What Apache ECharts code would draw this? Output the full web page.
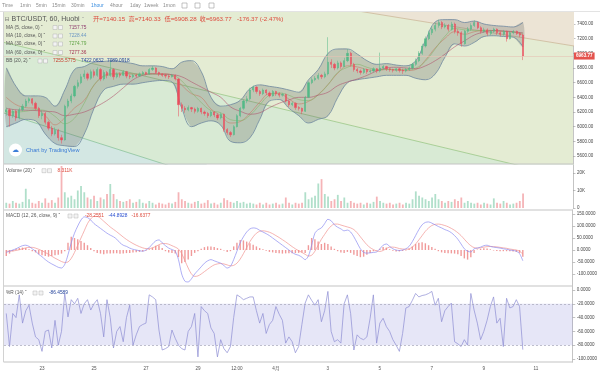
<!DOCTYPE html>
<html><head><meta charset="utf-8">
<script src="https://cdn.jsdelivr.net/npm/echarts@6/dist/echarts.min.js"></script>
<style>html,body{margin:0;padding:0;background:#fff}#c{width:600px;height:375px}</style>
</head><body><div id="c"></div>
<script>
// time axis in hours since 21 Mar 00:00
const candleStartHour = 15, candleStepHours = 3;
const lineStartHour = 15, lineStepHours = 9;
const hMin = 12.9, hMax = 538.1;

// [open, close, low, high]
const candles = [
[6200,6230,6150,6260],[6230,6150,6000,6250],[6150,6210,6120,6240],[6210,6120,6080,6230],[6120,6230,6100,6260],
[6230,6280,6210,6310],[6280,6350,6260,6380],[6350,6380,6320,6400],[6380,6320,6290,6390],[6320,6250,6220,6340],
[6250,6150,6120,6270],[6150,6180,6100,6220],[6180,6060,6030,6200],[6060,5980,5950,6080],[5980,5900,5870,6010],
[5900,5950,5880,5990],[5950,5850,5810,5970],[5850,5820,5770,5890],[5820,6280,5810,6300],[6280,6350,6250,6380],
[6350,6420,6320,6450],[6420,6550,6400,6570],[6550,6600,6520,6640],[6600,6680,6580,6720],[6680,6720,6650,6770],
[6720,6660,6630,6740],[6660,6750,6640,6780],[6750,6700,6670,6780],[6700,6780,6680,6810],[6780,6650,6620,6800],
[6650,6740,6630,6770],[6740,6700,6660,6760],[6700,6780,6680,6900],[6780,6680,6640,6800],[6680,6720,6660,6740],
[6720,6700,6670,6740],[6700,6750,6690,6770],[6750,6690,6660,6760],[6690,6680,6650,6710],[6680,6700,6660,6720],
[6700,6690,6670,6720],[6690,6720,6680,6740],[6720,6740,6700,6760],[6740,6720,6700,6750],[6720,6780,6710,6800],
[6780,6800,6760,6830],[6800,6740,6720,6810],[6740,6720,6690,6750],[6720,6700,6680,6730],[6700,6690,6660,6720],
[6690,6680,6650,6710],[6680,6700,6670,6720],[6700,6650,6630,6710],[6650,6300,6140,6660],[6300,6250,6200,6330],
[6250,6230,6190,6280],[6230,6260,6210,6290],[6260,6240,6200,6270],[6240,6210,6180,6260],[6210,6250,6190,6270],
[6250,6200,6170,6260],[6200,6180,6150,6220],[6180,6150,6120,6200],[6150,6200,6130,6220],[6200,6160,6130,6210],
[6160,6120,6090,6180],[6120,6170,6100,6190],[6170,5960,5930,6180],[5960,5920,5890,5980],[5920,5890,5860,5940],
[5890,6000,5880,6020],[6000,6150,5990,6170],[6150,6250,6130,6270],[6250,6350,6230,6370],[6350,6380,6320,6420],
[6380,6500,6360,6530],[6500,6540,6470,6560],[6540,6480,6450,6550],[6480,6450,6420,6500],[6450,6500,6430,6520],
[6500,6460,6430,6510],[6460,6420,6400,6480],[6420,6480,6410,6500],[6480,6450,6420,6490],[6450,6430,6400,6470],
[6430,6440,6410,6460],[6440,6350,6330,6450],[6350,6300,6270,6360],[6300,6320,6280,6340],[6320,6260,6230,6330],
[6260,6250,6220,6280],[6250,6210,6170,6260],[6210,6400,6200,6420],[6400,6600,6390,6620],[6600,6640,6580,6670],
[6640,6660,6620,6690],[6660,6700,6640,6730],[6700,6680,6650,6720],[6680,6720,6660,6750],[6720,6880,6700,7220],
[6880,6850,6800,6920],[6850,6800,6770,6870],[6800,6870,6780,6900],[6870,6820,6790,6890],[6820,6900,6810,6940],
[6900,7000,6880,7060],[7000,6850,6820,7020],[6850,6780,6750,6870],[6780,6760,6730,6800],[6760,6740,6710,6780],
[6740,6780,6720,6800],[6780,6750,6720,6790],[6750,6760,6730,6780],[6760,6790,6740,6810],[6790,6760,6730,6800],
[6760,6800,6740,7010],[6800,6820,6780,6840],[6820,6790,6760,6830],[6790,6780,6750,6800],[6780,6770,6740,6790],
[6770,6790,6750,6800],[6790,6770,6740,6800],[6770,6760,6720,6790],[6760,6780,6740,6800],[6780,6800,6760,6820],
[6800,6850,6780,6870],[6850,6900,6830,6930],[6900,7000,6880,7030],[7000,7100,6980,7130],[7100,7200,7080,7230],
[7200,7280,7180,7310],[7280,7330,7250,7360],[7330,7380,7300,7420],[7380,7420,7350,7460],[7420,7360,7330,7440],
[7360,7380,7340,7410],[7380,7330,7300,7400],[7330,7400,7310,7430],[7400,7300,7270,7420],[7300,7280,7240,7330],
[7280,7130,7090,7300],[7130,7300,7120,7320],[7300,7330,7280,7360],[7330,7380,7310,7410],[7380,7420,7360,7450],
[7420,7350,7330,7430],[7350,7300,7270,7370],[7300,7320,7280,7350],[7320,7270,7240,7340],[7270,7300,7250,7320],
[7300,7330,7280,7350],[7330,7280,7250,7340],[7280,7260,7230,7300],[7260,7300,7240,7320],[7300,7200,7160,7310],
[7200,7280,7190,7300],[7280,7300,7260,7320],[7300,7270,7250,7310],[7270,7250,7220,7290],[7250,6963.77,6908.28,7260]
];

const volumeK = [
3,2.5,4,3,2.5,3.5,11,5,3,2.5, 4,3,5.5,3,4.5,3,6,24,9,6, 7,5,10,12.5,9,6,5,7,4,6,
5,8,13.7,8,5,4,3.5,4,5,3, 3.5,5,3,2.5,4,3,2,3,2.5,2, 3,2.5,3.5,9,5,4,3,2.5,3.5,4,
2.5,3,4.5,2.5,3,2,3,5.5,4.5,3.5, 3,4,3,3.5,2.5,3,2.5,2,3,2, 3,2,2.5,3,2,2.5,6,3,2,3,
2.5,3,9,5,6,7,14,16.5,8,6.5, 4,5,7.5,4,6,3,4,3,2.5,3, 2,3,2.5,3.5,6.5,4,3,2.5,3,2,
2.5,3,2,3,2.5,5,9.5,7,6,5, 4,6,8,5,4,3,4,3.5,5,4, 6,3,4,3,2.5,3,2,3,2.5,2, 5.5,3,2.5,4,3,2,2.5,3,4,8.311
];

const macdDif = [
-10,-5,0,5,12,18,20,15,5,-5, -18,-28,-40,-50,-58,-65,-72,-75,-60,-20, 30,70,100,125,138,135,125,110,100,90,
80,70,62,55,45,30,20,15,8,3, 0,-3,-5,0,10,25,38,42,30,18, 8,2,-5,-40,-100,-130,-133,-120,-100,-85,
-70,-55,-45,-40,-45,-50,-55,-65,-75,-68, -40,-5,30,55,75,88,92,90,82,75, 68,60,50,40,30,20,10,0,-10,-18,
-22,-30,-40,-25,20,70,85,92,110,128, 122,105,95,88,80,83,75,55,30,5, -10,-13,-12,-10,-8,5,20,25,15,5,
0,-2,0,5,15,35,60,85,105,115, 117,112,105,98,92,85,80,72,60,45, 25,5,-5,-8,5,8,12,18,20,15, 12,10,8,5,3,0,-2,-5,-15,-44.89
];
const macdDea = [
-5,-5,-4,-2,1,5,9,11,11,8, 3,-3,-10,-18,-26,-34,-41,-48,-52,-50, -35,-10,20,50,80,110,130,140,140,132,
120,108,96,86,76,65,54,44,35,27, 20,14,9,6,6,9,15,22,27,27, 24,18,12,4,-15,-45,-75,-100,-110,-108,
-100,-90,-80,-70,-62,-58,-56,-58,-62,-66, -64,-55,-38,-15,10,35,55,70,78,80, 78,74,68,60,52,43,34,24,14,5,
-3,-10,-18,-25,-22,-5,20,45,65,85, 100,108,108,104,100,96,92,85,72,55, 38,22,10,2,-4,-6,-2,6,12,12,
10,6,4,3,5,12,25,42,60,78, 92,102,107,108,106,102,97,90,82,72, 60,45,30,18,10,8,9,12,14,15, 14,13,11,9,7,4,2,0,-5,-16.64
];
const macdHist = [
-25,-15,-5,5,8,10,8,3,-5,-10, -18,-22,-25,-28,-25,-22,-20,-15,-5,30, 55,50,45,38,30,20,8,-5,-12,-15,
-18,-15,-15,-14,-14,-16,-15,-13,-12,-10, -9,-8,-6,-3,3,10,18,20,8,-5, -10,-12,-15,-30,-55,-50,-40,-25,-12,-5,
5,12,15,15,12,8,5,-2,-8,-5, 15,30,42,40,35,28,22,15,8,3, -3,-8,-10,-12,-14,-15,-14,-14,-14,-13,
-12,-10,-12,20,50,45,35,25,30,25, 15,5,-5,-10,-12,-8,-12,-20,-25,-30, -28,-20,-12,-5,-2,5,12,10,3,-3,
-6,-6,-4,-2,5,15,25,30,32,28, 20,12,5,-5,-10,-12,-14,-14,-15,-18, -25,-35,-40,-30,-12,2,5,7,6,3, -2,-4,-5,-5,-5,-5,-6,-8,-12,-28.26
];

const wr = [
-34,-82,-34,-40,-7,-48,-30,-22,-48,-68, -72,-89,-60,-58,-84,-44,-80,-60,-5,-39, -14,-20,-12,-34,-20,-14,-29,-20,-14,-34,
-68,-14,-40,-84,-60,-53,-75,-40,-22,-80, -65,-53,-50,-48,-7,-10,-14,-58,-87,-85, -82,-58,-70,-80,-85,-87,-60,-53,-34,-97,
-24,-30,-34,-55,-63,-97,-72,-85,-91,-82, -40,-7,-10,-14,-12,-10,-10,-30,-48,-34, -63,-50,-44,-24,-35,-44,-77,-68,-75,-91,
-82,-50,-19,-7,-15,-22,-14,-46,-30,-2, -60,-75,-72,-77,-20,-7,-34,-87,-65,-70, -72,-68,-41,-7,-77,-48,-41,-53,-60,-72,
-80,-89,-63,-26,-24,-15,-5,-10,-8,-7, -5,-2,-22,-12,-46,-30,-24,-19,-75,-78, -82,-72,-80,-5,-29,-48,-72,-60,-44,-24, -10,-48,-41,-82,-12,-26,-24,-14,-24,-86.46
];

// lines sampled every 9 hours (every 3rd candle)
const ma30 = [6200,6200,6210,6230,6220,6140,6040,6116,6322,6571,6683,6710,6720,6718,6715,6715,6712,6705,6623,6470,
6329,6220,6190,6095,6082,6157,6299,6433,6460,6428,6370,6356,6434,6574,6740,6810,6851,6810,6780,6780,
6780,6780,6799,6895,7062,7235,7338,7320,7310,7310,7310,7300,7290,7275];
const ma60 = [6250,6230,6225,6220,6210,6200,6150,6170,6200,6260,6330,6420,6530,6640,6700,6720,6715,6710,6680,6610,
6540,6470,6400,6270,6210,6170,6190,6260,6320,6365,6400,6400,6430,6470,6560,6610,6650,6700,6760,6800,
6810,6800,6790,6830,6900,6990,7090,7170,7250,7290,7310,7305,7295,7277];
const bbUpper = [6800,6550,6420,6420,6400,6280,6500,6780,6820,6880,6890,6900,6880,6860,6830,6830,6820,6790,6880,6900,
6750,6400,6280,6300,6360,6520,6570,6550,6530,6500,6470,6640,6780,7000,7060,7060,6990,6900,6850,6860,
6840,6830,6900,7180,7430,7460,7460,7420,7440,7400,7380,7370,7360,7422];
const bbLower = [6000,6050,6100,6080,5900,5770,5740,5730,5900,6250,6500,6550,6580,6580,6600,6620,6630,6610,6250,6000,
6050,6080,6020,5800,5780,5850,6100,6350,6370,6250,6150,6050,6100,6150,6400,6600,6640,6660,6680,6700,
6700,6700,6660,6640,6720,6950,7130,7100,7150,7230,7240,7230,7220,7089];
const bbBasis = [6400,6300,6260,6250,6150,6025,6120,6255,6360,6565,6695,6725,6730,6720,6715,6725,6725,6700,6565,6450,
6400,6240,6150,6050,6070,6185,6335,6450,6450,6375,6310,6345,6440,6575,6730,6830,6815,6780,6765,6780,
6770,6765,6780,6910,7075,7205,7295,7260,7295,7315,7310,7300,7290,7255];

// drawing-tool trend lines [hour, price]
const trendA = [[0,8391],[540,7098]];
const trendB = [[0,7194],[540,5287]];
const trendC = [[0,6247],[200,5305]];

const xTickHours = [48,96,144,192,228,264,312,360,408,456,504];
const xTickLabels = ['23','25','27','29','12:00','4月','3','5','7','9','11'];
const priceTicks = [5600,5800,6000,6200,6400,6600,6800,7000,7200,7400];
const volTicks = [0,10000,20000];
const macdTicks = [150,100,50,0,-50,-100];
const wrTicks = [0,-20,-40,-60,-80,-100];

const FF = '"Liberation Sans","Noto Sans CJK SC",sans-serif';
const cT = i => candleStartHour + candleStepHours * i;
const lT = k => lineStartHour + lineStepHours * k;
const last = candles[candles.length - 1];

const candleData = candles.map((k, i) => [cT(i), k[0], k[1], k[2], k[3]]);
const volData = volumeK.map((v, i) => [cT(i), v * 1000]);
const ser = (arr, f) => arr.map((v, i) => [f(i), v]);
const bandData = bbUpper.map((u, k) => [lT(k), u, bbLower[k]]);

function txt(x, y, s, c, size, fam) {
  return {type:'text', x:x, y:y, z:100, silent:true,
    style:{text:s, fill:c, font: size + 'px ' + (fam || FF), verticalAlign:'middle', align:'left'}};
}
function box(x, y) {
  return {type:'rect', z:100, silent:true, shape:{x:x, y:y-2, width:4, height:4},
    style:{fill:'#f3f3f3', stroke:'#b5b5b5', lineWidth:0.5}};
}
function hline(y, x1, x2, c, w) {
  return {type:'line', z:90, silent:true, shape:{x1:x1, y1:y, x2:x2, y2:y}, style:{stroke:c, lineWidth:w}};
}

const graphics = [];
// toolbar
[['Time',2],['1min',20],['5min',36],['15min',52],['30min',71],['1hour',91],['4hour',110],['1day',130],['1week',144],['1mon',163]]
  .forEach(t => graphics.push(txt(t[1], 5.5, t[0], t[0] === '1hour' ? '#3d8fe0' : '#8c8c8c', 5)));
[182,195,209].forEach(x => graphics.push({type:'rect', z:100, shape:{x:x, y:3, width:5, height:5},
  style:{fill:'none', stroke:'#9a9a9a', lineWidth:0.6}}));
graphics.push(hline(11.5, 0, 600, '#e3e3e3', 1));
// main header
graphics.push(txt(4.5, 19.5, '⊟', '#777', 6, '"DejaVu Sans",sans-serif'));
graphics.push(txt(11.5, 19.5, 'BTC/USDT, 60, Huobi', '#555', 7));
graphics.push(txt(82, 19.5, 'ˇ', '#999', 6));
const red = '#dd4a3c';
graphics.push(txt(93, 19.5, '开=7140.15', red, 6.2));
graphics.push(txt(128.5, 19.5, '高=7140.33', red, 6.2));
graphics.push(txt(164.5, 19.5, '低=6908.28', red, 6.2));
graphics.push(txt(199.5, 19.5, '收=6963.77', red, 6.2));
graphics.push(txt(237, 19.5, '-176.37 (-2.47%)', red, 6.2));
[[27.5,'MA (5, close, 0) ˇ','7157.75','#8e3b6e'],[36,'MA (10, close, 0) ˇ','7228.44','#6c97c4'],
 [44,'MA (30, close, 0) ˇ','7274.79','#5fa344'],[52.5,'MA (60, close, 0) ˇ','7277.36','#a3304e']]
 .forEach(r => { graphics.push(txt(6, r[0], r[1], '#555', 4.8)); graphics.push(box(53, r[0])); graphics.push(box(58.5, r[0]));
   graphics.push(txt(69, r[0], r[2], r[3], 4.8)); });
graphics.push(txt(6, 61, 'BB (20, 2) ˇ', '#555', 4.8)); graphics.push(box(38, 61)); graphics.push(box(43.5, 61));
graphics.push(txt(53, 61, '7255.5775', '#c8402f', 4.8));
graphics.push(txt(81, 61, '7422.0632', '#1f3f99', 4.8));
graphics.push(txt(107, 61, '7089.0918', '#1f3f99', 4.8));
// watermark
graphics.push({type:'circle', z:100, shape:{cx:15.5, cy:150, r:6.5}, style:{fill:'#ffffff'}});
graphics.push({type:'text', z:101, x:15.5, y:150, style:{text:'☁', fill:'#3b7dd8', font:'7px "DejaVu Sans",sans-serif', align:'center', verticalAlign:'middle'}});
graphics.push(txt(26, 150.5, 'Chart by TradingView', '#3a7bd5', 5.6));
// sub headers
graphics.push(txt(6, 170.7, 'Volume (20) ˇ', '#555', 4.8)); graphics.push(box(42, 170.7)); graphics.push(box(47.5, 170.7));
graphics.push(txt(57.5, 170.7, '8.311K', '#dd4a3c', 4.8));
graphics.push(txt(6, 216, 'MACD (12, 26, close, 9) ˇ', '#555', 4.8)); graphics.push(box(68, 216)); graphics.push(box(74, 216));
graphics.push(txt(85, 216, '-28.2551', '#dd4a3c', 4.8));
graphics.push(txt(108.5, 216, '-44.8928', '#2a4fd0', 4.8));
graphics.push(txt(131.5, 216, '-16.6377', '#dd4a3c', 4.8));
graphics.push(txt(6, 293, '%R (14) ˇ', '#555', 4.8)); graphics.push(box(33, 293)); graphics.push(box(39, 293));
graphics.push(txt(49, 293, '-86.4589', '#1f3f99', 4.8));
// pane separators
[164, 210, 286, 362].forEach(y => graphics.push(hline(y, 3.5, 573, '#c4c4c4', 1.2)));
graphics.push({type:'line', z:90, shape:{x1:3.5, y1:12, x2:3.5, y2:362}, style:{stroke:'#d2d2d2', lineWidth:1}});

const grids = [
  {left:4, top:12, width:569, height:152, show:true, backgroundColor:'#e4ecd3', borderWidth:0},
  {left:4, top:164, width:569, height:44, show:false},
  {left:4, top:210, width:569, height:76, show:false},
  {left:4, top:286, width:569, height:76, show:false}
];
const xAxes = [0,1,2,3].map(g => ({
  type:'value', gridIndex:g, min:hMin, max:hMax, show: g === 3,
  axisLine:{show:false}, axisTick:{show:false}, splitLine:{show:false},
  axisLabel:{customValues: xTickHours, fontSize:4.6, color:'#555', margin:4, fontFamily:FF,
    formatter: v => { const j = xTickHours.indexOf(Math.round(v)); return j >= 0 ? xTickLabels[j] : ''; }}
}));
function yAx(g, min, max, ticks, fmt) {
  return {type:'value', gridIndex:g, position:'right', min:min, max:max, scale:true,
    axisLine:{show:true, lineStyle:{color:'#c4c4c4', width:1}},
    axisTick:{show:true, customValues:ticks, length:2.5, lineStyle:{color:'#999', width:0.6}},
    splitLine:{show:false},
    axisLabel:{customValues:ticks, formatter:fmt, fontSize:4.5, color:'#444', margin:4, fontFamily:FF}};
}
const yAxes = [
  yAx(0, 5491, 7564, priceTicks, v => v.toFixed(2)),
  yAx(1, 0, 25140, volTicks, v => v === 0 ? '0' : (v / 1000) + 'K'),
  yAx(2, -150, 166.7, macdTicks, v => v.toFixed(4)),
  yAx(3, -104.4, 5.84, wrTicks, v => v.toFixed(4))
];

const lineBase = {type:'line', symbol:'none', silent:true, xAxisIndex:0, yAxisIndex:0};
const series = [
  Object.assign({}, lineBase, {data:trendA, lineStyle:{color:'#cdb99a', width:0.8}, areaStyle:{origin:'end', color:'#ece4d5', opacity:1}, z:1}),
  Object.assign({}, lineBase, {data:trendB, lineStyle:{color:'#9cc888', width:0.8}, areaStyle:{origin:'start', color:'#d8ead4', opacity:1}, z:1}),
  Object.assign({}, lineBase, {data:trendC, lineStyle:{color:'#8cc39c', width:0.8}, areaStyle:{origin:'start', color:'#d3e7e3', opacity:1}, z:1}),
  {type:'custom', xAxisIndex:0, yAxisIndex:0, data:bandData, silent:true, clip:true, z:2,
    encode:{x:0, y:[1,2]},
    renderItem: function (params, api) {
      if (params.dataIndex !== 0) return null;
      const up = bandData.map(d => api.coord([d[0], d[1]]));
      const lo = bandData.map(d => api.coord([d[0], d[2]])).reverse();
      return {type:'polygon', shape:{points: up.concat(lo), smooth:0.3},
        style:{fill:'rgba(95,100,95,0.27)', stroke:'none'}};
    }},
  Object.assign({}, lineBase, {data:ser(bbLower, lT), smooth:0.4, lineStyle:{color:'#6f88a0', width:0.8}, z:3}),
  Object.assign({}, lineBase, {data:ser(bbUpper, lT), smooth:0.4, lineStyle:{color:'#6f88a0', width:0.8}, z:3}),
  Object.assign({}, lineBase, {data:ser(bbBasis, lT), smooth:0.4, lineStyle:{color:'#c77a66', width:0.6}, z:3}),
  Object.assign({}, lineBase, {data:ser(ma30, lT), smooth:0.4, lineStyle:{color:'#86b56f', width:0.6}, z:3}),
  Object.assign({}, lineBase, {data:ser(ma60, lT), smooth:0.4, lineStyle:{color:'#b0566f', width:0.6}, z:3}),
  {type:'candlestick', xAxisIndex:0, yAxisIndex:0, data:candleData, encode:{x:0, y:[1,2,3,4]},
    barWidth:1.6, z:4, silent:true,
    itemStyle:{color:'#53b987', color0:'#eb4d5c', borderColor:'#53b987', borderColor0:'#eb4d5c', borderWidth:0.5},
    markLine:{silent:true, symbol:['none','none'], animation:false,
      lineStyle:{color:'#e6c3b4', width:0.6, type:'solid'},
      label:{position:'end', formatter: last[1].toFixed(2), color:'#fff', backgroundColor:'#e4534d',
        padding:[1.5,2,1,2], fontSize:4.6, fontWeight:'bold', distance:1, fontFamily:FF},
      data:[{yAxis:last[1]}]}},
  {type:'bar', xAxisIndex:1, yAxisIndex:1, data:volData, barWidth:1.8, silent:true,
    itemStyle:{color: p => { const k = candles[p.dataIndex]; return k[1] >= k[0] ? '#b0dfca' : '#f5b4b7'; }}},
  {type:'bar', xAxisIndex:2, yAxisIndex:2, data:ser(macdHist, cT), barWidth:1.4, silent:true,
    itemStyle:{color:'#f09a9a'}},
  {type:'line', xAxisIndex:2, yAxisIndex:2, data:ser(macdDea, cT), symbol:'none', smooth:0.3, silent:true,
    lineStyle:{color:'#f09490', width:0.7}},
  {type:'line', xAxisIndex:2, yAxisIndex:2, data:ser(macdDif, cT), symbol:'none', smooth:0.3, silent:true,
    lineStyle:{color:'#8c8cf0', width:0.7}},
  {type:'line', xAxisIndex:3, yAxisIndex:3, data:ser(wr, cT), symbol:'none', silent:true,
    lineStyle:{color:'#8c8cd2', width:0.7},
    markArea:{silent:true, itemStyle:{color:'rgba(120,120,210,0.19)'}, data:[[{yAxis:-20},{yAxis:-80}]]},
    markLine:{silent:true, symbol:['none','none'], label:{show:false},
      lineStyle:{color:'#a5a5b8', width:0.7, type:[2,2]}, data:[{yAxis:-20},{yAxis:-80}]}}
];

const chart = echarts.init(document.getElementById('c'), null, {renderer:'canvas'});
chart.setOption({
  animation:false, backgroundColor:'#ffffff',
  grid:grids, xAxis:xAxes, yAxis:yAxes, series:series, graphic:graphics
});
</script></body></html>
